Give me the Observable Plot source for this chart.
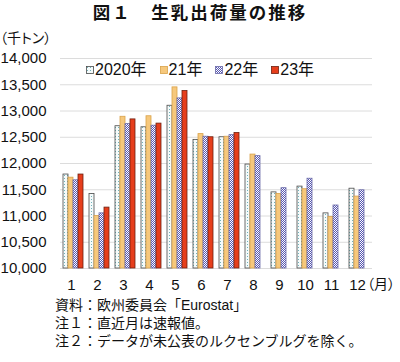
<!DOCTYPE html>
<html><head><meta charset="utf-8">
<script src="https://cdn.jsdelivr.net/npm/d3@7"></script>
<script src="https://cdn.jsdelivr.net/npm/@observablehq/plot@0.6"></script>
<style>
body{margin:0;background:#fff;font-family:"Liberation Sans","Noto Sans CJK JP",sans-serif;color:#111}
#wrap{position:relative;width:400px;height:362px;overflow:hidden}
#title{position:absolute;left:0;top:2px;width:400px;text-align:center;font-size:17.5px;letter-spacing:2px;font-weight:bold;line-height:19px;font-family:"Noto Sans CJK JP",sans-serif}
#unit{position:absolute;left:0;top:29px;font-size:14px;line-height:17px;font-feature-settings:"palt";font-family:"Noto Sans CJK JP",sans-serif}
#month{position:absolute;left:367px;top:275px;font-size:14px;line-height:17px;font-feature-settings:"palt";font-family:"Noto Sans CJK JP",sans-serif}
#chart{position:absolute;left:0;top:45px}
#legend{position:absolute;left:86px;top:61px;display:flex;align-items:center;font-size:16px;line-height:18px}
#legend .item{display:flex;align-items:center;margin-right:13px}
#legend svg{margin-right:1px}
#notes{position:absolute;left:55px;top:296px;font-size:14px;line-height:18px}
</style></head><body>
<svg width="0" height="0" style="position:absolute">
<defs>
<pattern id="p2020" width="3" height="3" patternUnits="userSpaceOnUse"><rect width="3" height="3" fill="#f5fbfb"/><rect x="1" y="1" width="1" height="1" fill="#72b2ba"/></pattern>
<pattern id="p2022" width="2" height="2" patternUnits="userSpaceOnUse"><rect width="2" height="2" fill="#ffffff"/><rect width="1" height="1" fill="#5656b2"/><rect x="1" y="1" width="1" height="1" fill="#5656b2"/></pattern>
</defs></svg>
<div id="wrap">
<div id="title">図１　生乳出荷量の推移</div>
<div id="unit">（千トン）</div>
<div id="chart"></div>
<div id="legend"></div>
<div id="month">（月）</div>
<div id="notes">資料：欧州委員会「Eurostat」<br>注１：直近月は速報値。<br>注２：データが未公表のルクセンブルグを除く。</div>
</div>
<script>
const months = [1,2,3,4,5,6,7,8,9,10,11,12];
const seriesNames = ["2020年","21年","22年","23年"];
const v2020 = [11790,11420,12710,12690,13100,12450,12500,11980,11450,11560,11050,11520];
const v2021 = [11730,11000,12890,12900,13450,12560,12510,12170,11420,11510,10980,11370];
const v2022 = [11680,11050,12750,12720,13240,12510,12540,12140,11530,11710,11200,11490];
const v2023 = [11790,11160,12840,12760,13380,12500,12580];
const yTicks = [10000,10500,11000,11500,12000,12500,13000,13500,14000];

const seriesValues = [v2020,v2021,v2022,v2023];
const fills = ["url(#p2020)","#f6c87c","url(#p2022)","#e63e1c"];
const strokes = ["#4a4a4a","#d9a24a","#6a6aa8","#6e2010"];

const rows = seriesValues.map(vals => vals.map((v,i)=>({month: months[i], value: v})));

const bw = 5, pad = 3;
const barMarks = rows.map((r,i)=>Plot.barY(r, {
  x: "month", y1: 10000, y2: "value",
  fill: fills[i], stroke: strokes[i], strokeWidth: 0.8,
  insetLeft: pad + bw*i, insetRight: pad + bw*(3-i)
}));

const chart = Plot.plot({
  width: 400, height: 255,
  marginLeft: 60, marginRight: 28, marginTop: 13, marginBottom: 32,
  style: {fontFamily: "Liberation Sans, Noto Sans CJK JP, sans-serif", fontSize: "15px", background: "transparent", color: "#111"},
  x: {type: "band", domain: months, padding: 0, axis: null},
  y: {domain: [10000,14000], axis: null},
  marks: [
    Plot.ruleY(yTicks, {stroke: "#dcdcdc", strokeWidth: 1}),
    ...barMarks,
    Plot.axisY(yTicks, {tickSize: 0, tickPadding: 14, tickFormat: d3.format(","), fontSize: 15, label: null}),
    Plot.axisX(months, {tickSize: 0, tickPadding: 11, fontSize: 15, dx: -2, label: null})
  ]
});
document.getElementById("chart").appendChild(chart);

const legend = document.getElementById("legend");
seriesNames.forEach((name,i)=>{
  const item = document.createElement("div");
  item.className = "item";
  item.innerHTML = `<svg width="8" height="8"><rect x="0.5" y="0.5" width="7" height="7" fill="${fills[i]}" stroke="${strokes[i]}" stroke-width="0.8"/></svg><span>${name}</span>`;
  legend.appendChild(item);
});
</script>
</body></html>
